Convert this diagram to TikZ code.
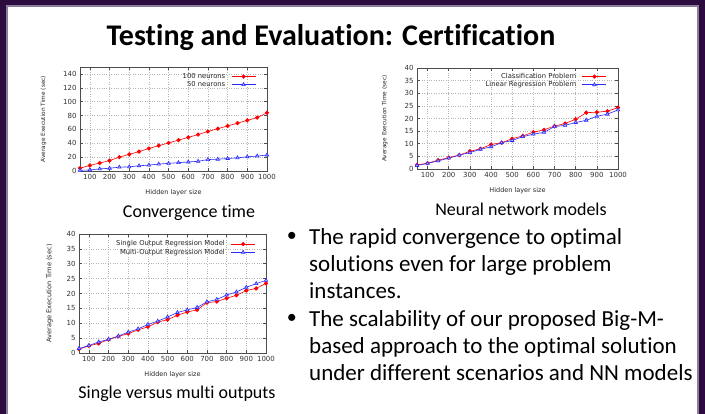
\documentclass[tikz,border=0pt]{standalone}
\usepackage{fontspec}
\setmainfont{Carlito}[Ligatures=NoCommon]
\newfontfamily\plotfont{DejaVu Sans}
\usepackage{tikz}
\usepackage{pgfplots}
\usetikzlibrary{positioning}
\pgfplotsset{compat=1.18}
\definecolor{slidebg}{HTML}{2C0B3E}
\definecolor{paneledge}{HTML}{8C7C9C}
\definecolor{plotred}{HTML}{FF0000}
\definecolor{plotblue}{HTML}{2A2AFF}
\definecolor{gridgray}{HTML}{B4B4B4}

\pgfplotsset{
    gnustyle/.style={
        scale only axis,
        xmin=50, xmax=1000, ymin=0,
        xtick={100,200,...,1000},
        /pgf/number format/1000 sep={},
        xticklabel={\pgfmathprintnumber[assume math mode=true]{\tick}},
        yticklabel={\pgfmathprintnumber[assume math mode=true]{\tick}},
        tick align=inside,
        major tick length=3pt,
        grid=major,
        grid style={dotted, gridgray, line width=0.5pt},
        axis line style={black!70, line width=0.6pt},
        tick style={black!70, line width=0.5pt},
        tick label style={font=\plotfont\fontsize{7}{8}\selectfont, text=black!80},
        label style={font=\plotfont\fontsize{5.8}{7}\selectfont, text=black!85},
        xlabel={Hidden layer size},
        ylabel={Average Execution Time (sec)},
        xlabel style={yshift=-3pt, font=\plotfont\fontsize{6.5}{7}\selectfont},
        ylabel shift=7pt,
        legend style={anchor=north east,
            draw=none, fill=none, inner sep=1pt, row sep=-2.5pt, column sep=4pt,
            font=\plotfont\fontsize{6.8}{8}\selectfont, text=black!85},
        legend plot pos=right,
        legend cell align=right,
        legend image code/.code={
            \draw[mark repeat=2, mark phase=2, ##1]
                plot coordinates {(0pt,0pt) (12pt,0pt) (24pt,0pt)};
        },
    },
    redline/.style={plotred, line width=0.6pt, mark=*, mark size=1.8pt,
        mark options={fill=plotred, solid}},
    blueline/.style={plotblue, line width=0.6pt, mark=triangle*, mark size=2pt,
        mark options={fill=plotblue!35, solid}},
}

\begin{document}
\begin{tikzpicture}[
    slidetitle/.style={font=\fontsize{30}{32}\selectfont\bfseries, inner sep=0pt},
    caption/.style={font=\fontsize{18}{20}\selectfont, inner sep=0pt, anchor=base},
    bullettext/.style={font=\fontsize{23}{27}\selectfont, align=left, inner sep=0pt, anchor=north west},
    dot/.style={font=\fontsize{20}{27}\selectfont, inner sep=0pt}
]
\useasboundingbox (0,0) rectangle (705pt,414pt);
\fill[slidebg] (0,0) rectangle (705pt,414pt);
\filldraw[fill=white, draw=paneledge, line width=1.2pt] (7pt,-2pt) rectangle (698pt,408pt);

\node[slidetitle] (title) at (331pt,376pt) {Testing and Evaluation: Certification};

\begin{axis}[gnustyle, name=conv, at={(80pt,243pt)}, anchor=south west,
    width=187pt, height=104pt, ymax=150, ytick={0,20,...,140}, ylabel shift=10pt,
    legend style={at={(0.947,0.97)}}]
\addplot[redline] coordinates {
    (50,4) (100,8) (150,11.5) (200,15) (250,20) (300,24) (350,28) (400,32.5)
    (450,36.5) (500,40.5) (550,44.5) (600,48.5) (650,52.5) (700,57) (750,61)
    (800,65) (850,69) (900,73) (950,77) (1000,84)};
\addlegendentry{100 neurons}
\addplot[blueline] coordinates {
    (50,1) (100,1.5) (150,3) (200,4) (250,5.5) (300,6) (350,7.5) (400,8.5)
    (450,10) (500,11) (550,12) (600,13) (650,14) (700,16.5) (750,17)
    (800,18) (850,19) (900,20.5) (950,21.5) (1000,23)};
\addlegendentry{50 neurons}
\end{axis}

\begin{axis}[gnustyle, name=nnmodels, at={(417pt,245pt)}, anchor=south west,
    width=201pt, height=101pt, ymax=40, ytick={0,5,...,40}, ylabel shift=10pt,
    legend style={at={(0.95,0.98)}}]
\addplot[redline] coordinates {
    (50,1.6) (100,2.3) (150,3.5) (200,4.5) (250,5.5) (300,7) (350,8) (400,9.7)
    (450,10.4) (500,12) (550,13.1) (600,14.6) (650,15.5) (700,17) (750,18)
    (800,19.7) (850,22.3) (900,22.5) (950,22.9) (1000,24.3)};
\addlegendentry{Classification Problem}
\addplot[blueline] coordinates {
    (50,1.4) (100,2.2) (150,3.2) (200,4.3) (250,5.5) (300,6.5) (350,7.8) (400,8.8)
    (450,10.4) (500,11.3) (550,12.8) (600,13.8) (650,14.5) (700,16.8) (750,17.3)
    (800,18.4) (850,19.3) (900,20.9) (950,21.7) (1000,23.4)};
\addlegendentry{Linear Regression Problem}
\end{axis}

\begin{axis}[gnustyle, name=outputs, at={(79pt,61pt)}, anchor=south west,
    width=187pt, height=119pt, ymax=40, ytick={0,5,...,40},
    ylabel style={font=\plotfont\fontsize{6.6}{7}\selectfont},
    legend style={at={(0.95,0.97)}}]
\addplot[redline] coordinates {
    (50,1.3) (100,2.4) (150,3.2) (200,4.5) (250,5.6) (300,6.5) (350,7.8) (400,8.8)
    (450,10.4) (500,11.2) (550,12.7) (600,13.8) (650,14.5) (700,16.9) (750,17.3)
    (800,18.4) (850,19.4) (900,21) (950,21.7) (1000,23.4)};
\addlegendentry{Single Output Regression Model}
\addplot[blueline] coordinates {
    (50,1.5) (100,2.5) (150,3.7) (200,4.6) (250,5.7) (300,7) (350,8.1) (400,9.6)
    (450,10.7) (500,12.1) (550,13.6) (600,14.5) (650,15.3) (700,17.2) (750,18)
    (800,19.5) (850,20.5) (900,22.1) (950,23.3) (1000,24.4)};
\addlegendentry{Multi-Output Regression Model}
\end{axis}

\node[caption] (convcap) at (189pt,196pt) {Convergence time};
\node[caption] (nncap) at (521pt,198pt) {Neural network models};
\node[caption] (outcap) at (177pt,15pt) {Single versus multi outputs};

\node[bullettext] (pointa) at (309pt,186pt)
    {The rapid convergence to optimal\\solutions even for large problem\\instances.};
\node[bullettext] (pointb) at (309pt,104pt)
    {The scalability of our proposed Big-M-\\based approach to the optimal solution\\under different scenarios and NN models};
\node[dot, left=12pt of pointa.north west, yshift=-9pt] (dota) {\textbullet};
\node[dot, left=12pt of pointb.north west, yshift=-9pt] (dotb) {\textbullet};
\end{tikzpicture}
\end{document}
